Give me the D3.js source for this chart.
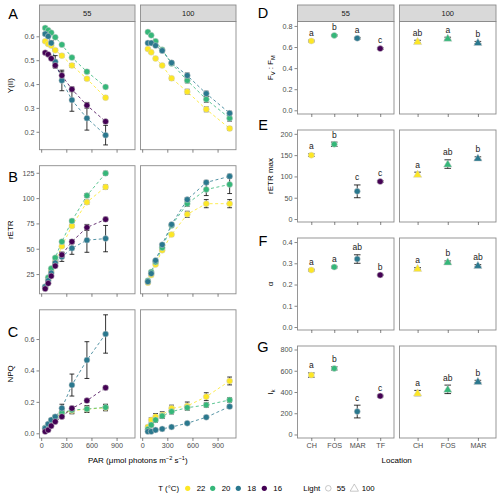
<!DOCTYPE html>
<html>
<head>
<meta charset="utf-8">
<script src="https://cdn.jsdelivr.net/npm/d3@7"></script>
<style>
body { margin: 0; background: #fff; }
svg { font-family: "Liberation Sans", Arial, sans-serif; }
</style>
</head>
<body>
<div id="chart"></div>
<script>
// ---- data ----
var temps = ["22", "20", "18", "16"];
var tempColors = ["#FDE725", "#35B779", "#2A788E", "#440154"];

// light curves, PAR per light level (55 = 4 temps, 100 = 3 temps)
var par55 = [48, 84, 120, 168, 247, 367, 546, 769];
var par100 = [68, 108, 160, 239, 351, 538, 765, 1044];
var parTicks = [0, 300, 600, 900];

// Y(II)
var yii55 = [
  [0.579, 0.568, 0.561, 0.542, 0.519, 0.478, 0.422, 0.343],
  [0.635, 0.625, 0.615, 0.596, 0.565, 0.511, 0.452, 0.388],
  [0.610, 0.600, 0.572, 0.493, 0.415, 0.333, 0.257, 0.186],
  [0.531, 0.524, 0.507, 0.478, 0.436, 0.378, 0.311, 0.243]
];
var yii55Se = [
  [0.004, 0.004, 0.004, 0.005, 0.006, 0.008, 0.006, 0.006],
  [0.003, 0.003, 0.003, 0.004, 0.004, 0.005, 0.006, 0.006],
  [0.005, 0.005, 0.010, 0.026, 0.043, 0.047, 0.050, 0.041],
  [0.004, 0.004, 0.005, 0.008, 0.015, 0.010, 0.012, 0.008]
];
var yii100 = [
  [0.547, 0.533, 0.507, 0.478, 0.424, 0.368, 0.294, 0.214],
  [0.618, 0.604, 0.579, 0.544, 0.486, 0.415, 0.336, 0.257],
  [0.572, 0.572, 0.561, 0.540, 0.489, 0.436, 0.360, 0.278]
];
var yii100Se = [
  [0.004, 0.004, 0.005, 0.005, 0.007, 0.010, 0.010, 0.008],
  [0.003, 0.003, 0.004, 0.005, 0.006, 0.010, 0.012, 0.012],
  [0.004, 0.004, 0.004, 0.005, 0.008, 0.010, 0.010, 0.008]
];
var yiiTicks = [0.2, 0.3, 0.4, 0.5, 0.6];

// rETR
var retr55 = [
  [11.5, 19.5, 28, 37, 52.5, 72.5, 96, 111],
  [12.5, 21.5, 30.5, 41, 57, 77.5, 102.5, 124.5],
  [12.5, 18.5, 26, 36, 42, 50.5, 58.5, 60],
  [10.5, 15.8, 23, 33, 44, 57, 71, 79]
];
var retr55Se = [
  [0.4, 0.5, 0.6, 0.8, 1, 1.5, 2, 2],
  [0.4, 0.5, 0.6, 0.8, 1, 1.5, 2, 2],
  [0.5, 0.6, 0.8, 1.5, 4.5, 6, 12, 13],
  [0.4, 0.5, 0.8, 1.2, 2.5, 2, 3, 2]
];
var retr100 = [
  [16.5, 24, 34.5, 48.5, 64, 84, 94.5, 94.5],
  [18.5, 27, 37, 51, 73, 94.5, 108.5, 113.5],
  [17.5, 25.5, 38.5, 54, 74, 98.5, 115.5, 121.5]
];
var retr100Se = [
  [0.5, 0.6, 0.8, 1.2, 1.5, 3, 4, 4],
  [0.4, 0.6, 0.8, 1, 1.5, 2.5, 6, 9],
  [0.5, 0.6, 0.8, 1, 1.5, 2, 2, 2]
];
var retrTicks = [25, 50, 75, 100, 125];

// NPQ
var npq55 = [
  [0.030, 0.050, 0.075, 0.100, 0.127, 0.144, 0.153, 0.163],
  [0.035, 0.055, 0.080, 0.100, 0.131, 0.148, 0.155, 0.165],
  [0.032, 0.059, 0.085, 0.105, 0.160, 0.307, 0.466, 0.632],
  [0.011, 0.021, 0.047, 0.074, 0.106, 0.159, 0.208, 0.290]
];
var npq55Se = [
  [0.005, 0.008, 0.010, 0.012, 0.020, 0.020, 0.020, 0.020],
  [0.005, 0.008, 0.010, 0.012, 0.018, 0.020, 0.020, 0.020],
  [0.005, 0.008, 0.010, 0.012, 0.025, 0.070, 0.117, 0.122],
  [0.003, 0.004, 0.005, 0.006, 0.008, 0.012, 0.010, 0.012]
];
var npq100 = [
  [0.040, 0.085, 0.106, 0.117, 0.159, 0.174, 0.233, 0.333],
  [0.025, 0.053, 0.085, 0.110, 0.138, 0.163, 0.180, 0.212],
  [0.011, 0.011, 0.021, 0.028, 0.040, 0.064, 0.102, 0.170]
];
var npq100Se = [
  [0.010, 0.015, 0.020, 0.020, 0.020, 0.025, 0.025, 0.025],
  [0.010, 0.012, 0.015, 0.015, 0.015, 0.015, 0.015, 0.015],
  [0.003, 0.003, 0.004, 0.005, 0.005, 0.006, 0.008, 0.012]
];
var npqTicks = [0, 0.2, 0.4, 0.6];

// photosynthetic parameters by location
var sites55 = ["CH", "FOS", "MAR", "TF"];
var sites100 = ["CH", "FOS", "MAR"];

var fvfm55 = [0.657, 0.710, 0.683, 0.585];
var fvfm55Se = [0.008, 0.006, 0.008, 0.008];
var fvfm55Let = ["a", "b", "a", "c"];
var fvfm100 = [0.652, 0.683, 0.643];
var fvfm100Se = [0.012, 0.010, 0.010];
var fvfm100Let = ["ab", "a", "b"];
var fvfmTicks = [0, 0.2, 0.4, 0.6, 0.8];

var rmax55 = [150, 175.5, 65, 88];
var rmax55Se = [3, 5, 15, 2];
var rmax55Let = ["a", "b", "c", "c"];
var rmax100 = [105, 129, 143];
var rmax100Se = [5, 10, 3];
var rmax100Let = ["a", "ab", "b"];
var rmaxTicks = [0, 50, 100, 150, 200];

var alpha55 = [0.268, 0.282, 0.320, 0.245];
var alpha55Se = [0.004, 0.004, 0.020, 0.003];
var alpha55Let = ["a", "a", "ab", "b"];
var alpha100 = [0.276, 0.306, 0.290];
var alpha100Se = [0.004, 0.005, 0.004];
var alpha100Let = ["a", "b", "ab"];
var alphaTicks = [0, 0.1, 0.2, 0.3, 0.4];

var ik55 = [559, 622, 216, 362];
var ik55Se = [20, 15, 60, 8];
var ik55Let = ["a", "b", "c", "c"];
var ik100 = [390, 425, 500];
var ik100Se = [25, 40, 10];
var ik100Let = ["a", "ab", "b"];
var ikTicks = [0, 200, 400, 600, 800];

var lightLevels = ["55", "100"];

// ---- drawing ----
var svg = d3.select("#chart").append("svg")
    .attr("width", 500)
    .attr("height", 498);

var borderCol = "#8c8c8c";
var tickTxt = "#4D4D4D";

function panelBox(x0, x1, y0, y1) {
    svg.append("rect")
        .attr("x", x0).attr("y", y0)
        .attr("width", x1 - x0).attr("height", y1 - y0)
        .attr("fill", "none")
        .attr("stroke", borderCol)
        .attr("stroke-width", 0.9);
}

function strip(x0, x1, y0, y1, label) {
    svg.append("rect")
        .attr("x", x0).attr("y", y0)
        .attr("width", x1 - x0).attr("height", y1 - y0)
        .attr("fill", "#D9D9D9")
        .attr("stroke", borderCol)
        .attr("stroke-width", 0.9);
    svg.append("text")
        .attr("x", (x0 + x1) / 2).attr("y", (y0 + y1) / 2 + 2.6)
        .attr("text-anchor", "middle")
        .style("font-size", "7.5px")
        .attr("fill", "#1A1A1A")
        .text(label);
}

function styleAxis(g, showLabels) {
    g.select(".domain").remove();
    g.selectAll(".tick line").attr("stroke", "#333").attr("stroke-width", 0.6);
    g.selectAll(".tick text")
        .attr("fill", tickTxt)
        .style("font-size", "7.2px")
        .style("font-family", "Liberation Sans, Arial, sans-serif");
    if (!showLabels) g.selectAll(".tick text").remove();
}

function yAxis(y, x0, ticks, fmt) {
    var g = svg.append("g")
        .attr("transform", "translate(" + x0 + ",0)")
        .call(d3.axisLeft(y).tickValues(ticks).tickSize(3).tickPadding(2).tickFormat(d3.format(fmt)));
    styleAxis(g, true);
}

function yTitle(x, yMid, build) {
    var t = svg.append("text")
        .attr("transform", "translate(" + x + "," + yMid + ") rotate(-90)")
        .attr("text-anchor", "middle")
        .style("font-size", "8px")
        .attr("fill", "#000");
    build(t);
}

function tag(x, y, s) {
    svg.append("text")
        .attr("x", x).attr("y", y + 5)
        .attr("text-anchor", "middle")
        .style("font-size", "14.5px")
        .attr("fill", "#000")
        .text(s);
}

// left grid: light curves
var leftFacets = [[39.5, 135], [140.5, 236]];
var xPar = leftFacets.map(function (f) {
    return d3.scaleLinear().domain([-20, 1120]).range(f);
});
var parByFacet = [par55, par100];

var leftRows = [
    {tag: "A", tagY: 14, top: 21.5, bottom: 149.7, dom: [0.125, 0.662], ticks: yiiTicks, fmt: ".1f",
        title: "Y(II)", vals: [yii55, yii100], se: [yii55Se, yii100Se]},
    {tag: "B", tagY: 177, top: 165.7, bottom: 293.8, dom: [5.5, 132], ticks: retrTicks, fmt: "d",
        title: "rETR", vals: [retr55, retr100], se: [retr55Se, retr100Se]},
    {tag: "C", tagY: 332, top: 309.8, bottom: 438, dom: [-0.03, 0.786], ticks: npqTicks, fmt: ".1f",
        title: "NPQ", vals: [npq55, npq100], se: [npq55Se, npq100Se]}
];

leftFacets.forEach(function (f, i) {
    strip(f[0], f[1], 5, 21.5, lightLevels[i]);
});

leftRows.forEach(function (row, ri) {
    var y = d3.scaleLinear().domain(row.dom).range([row.bottom, row.top]);
    yAxis(y, leftFacets[0][0], row.ticks, row.fmt);
    yTitle(13, (row.top + row.bottom) / 2, function (t) { t.text(row.title); });
    tag(13, row.tagY, row.tag);

    leftFacets.forEach(function (f, fi) {
        var x = xPar[fi];
        var pars = parByFacet[fi];
        panelBox(f[0], f[1], row.top, row.bottom);

        var gx = svg.append("g")
            .attr("transform", "translate(0," + row.bottom + ")")
            .call(d3.axisBottom(x).tickValues(parTicks).tickSize(3).tickPadding(2).tickFormat(d3.format("d")));
        styleAxis(gx, ri === 2);

        var series = row.vals[fi].map(function (v, k) {
            return v.map(function (d, j) {
                return {x: pars[j], y: d, se: row.se[fi][k][j], col: tempColors[k]};
            });
        });

        var line = d3.line().x(function (d) { return x(d.x); }).y(function (d) { return y(d.y); });
        svg.append("g").selectAll("path").data(series).enter().append("path")
            .attr("d", line)
            .attr("fill", "none")
            .attr("stroke", function (d) { return d[0].col; })
            .attr("stroke-width", 0.8)
            .attr("stroke-dasharray", "3,2.5");

        var eg = svg.append("g");
        series.forEach(function (s) {
            s.forEach(function (d) {
                var cx = x(d.x), y0 = y(d.y - d.se), y1 = y(d.y + d.se);
                eg.append("path")
                    .attr("d", "M" + (cx - 2.4) + "," + y1 + "H" + (cx + 2.4) +
                        "M" + cx + "," + y1 + "V" + y0 +
                        "M" + (cx - 2.4) + "," + y0 + "H" + (cx + 2.4))
                    .attr("stroke", "#000")
                    .attr("stroke-width", 0.8)
                    .attr("fill", "none");
            });
        });

        var pg = svg.append("g");
        series.forEach(function (s) {
            pg.selectAll(null).data(s).enter().append("circle")
                .attr("cx", function (d) { return x(d.x); })
                .attr("cy", function (d) { return y(d.y); })
                .attr("r", 3)
                .attr("fill", function (d) { return d.col; })
                .attr("stroke", "#cfcfcf")
                .attr("stroke-width", 0.5);
        });
    });
});

// PAR axis title
var parT = svg.append("text")
    .attr("x", 137.8).attr("y", 463)
    .attr("text-anchor", "middle")
    .style("font-size", "8px")
    .attr("fill", "#000");
parT.append("tspan").text("PAR (\u03bcmol photons m");
parT.append("tspan").attr("dy", -3).style("font-size", "5.6px").text("\u22122");
parT.append("tspan").attr("dy", 3).text(" s");
parT.append("tspan").attr("dy", -3).style("font-size", "5.6px").text("\u22121");
parT.append("tspan").attr("dy", 3).text(")");

// right grid: parameters by location
var rightFacets = [[297.5, 394], [399.5, 496]];
var siteByFacet = [sites55, sites100];
var xSite = rightFacets.map(function (f, i) {
    return d3.scalePoint().domain(siteByFacet[i]).range([f[0], f[1]]).padding(0.6);
});

var rightRows = [
    {tag: "D", tagY: 13, top: 21.5, bottom: 114, dom: [-0.035, 0.842], ticks: fvfmTicks, fmt: ".1f",
        vals: [fvfm55, fvfm100], se: [fvfm55Se, fvfm100Se], lets: [fvfm55Let, fvfm100Let],
        title: function (t) {
            t.append("tspan").text("F");
            t.append("tspan").attr("dy", 2).style("font-size", "5.6px").text("V");
            t.append("tspan").attr("dy", -2).text(" : F");
            t.append("tspan").attr("dy", 2).style("font-size", "5.6px").text("M");
        }},
    {tag: "E", tagY: 125, top: 130, bottom: 222, dom: [-7, 209], ticks: rmaxTicks, fmt: "d",
        vals: [rmax55, rmax100], se: [rmax55Se, rmax100Se], lets: [rmax55Let, rmax100Let],
        title: function (t) { t.text("rETR max"); }},
    {tag: "F", tagY: 241, top: 238, bottom: 330, dom: [-0.014, 0.419], ticks: alphaTicks, fmt: ".1f",
        vals: [alpha55, alpha100], se: [alpha55Se, alpha100Se], lets: [alpha55Let, alpha100Let],
        title: function (t) { t.text("\u03b1"); }},
    {tag: "G", tagY: 347, top: 346, bottom: 438, dom: [-33, 833], ticks: ikTicks, fmt: "d",
        vals: [ik55, ik100], se: [ik55Se, ik100Se], lets: [ik55Let, ik100Let],
        title: function (t) {
            t.append("tspan").text("I");
            t.append("tspan").attr("dy", 2).style("font-size", "5.6px").text("k");
        }}
];

rightFacets.forEach(function (f, i) {
    strip(f[0], f[1], 5, 21.5, lightLevels[i]);
});

var triangle = d3.symbol().type(d3.symbolTriangle).size(30);

rightRows.forEach(function (row, ri) {
    var y = d3.scaleLinear().domain(row.dom).range([row.bottom, row.top]);
    yAxis(y, rightFacets[0][0], row.ticks, row.fmt);
    yTitle(273, (row.top + row.bottom) / 2, row.title);
    tag(263, row.tagY, row.tag);

    rightFacets.forEach(function (f, fi) {
        var x = xSite[fi];
        panelBox(f[0], f[1], row.top, row.bottom);

        var gx = svg.append("g")
            .attr("transform", "translate(0," + row.bottom + ")")
            .call(d3.axisBottom(x).tickSize(3).tickPadding(2));
        styleAxis(gx, ri === 3);

        var pts = row.vals[fi].map(function (v, j) {
            return {site: siteByFacet[fi][j], y: v, se: row.se[fi][j], lab: row.lets[fi][j], col: tempColors[j]};
        });

        var g = svg.append("g");
        pts.forEach(function (d) {
            var cx = x(d.site), y0 = y(d.y - d.se), y1 = y(d.y + d.se);
            g.append("path")
                .attr("d", "M" + (cx - 3.3) + "," + y1 + "H" + (cx + 3.3) +
                    "M" + cx + "," + y1 + "V" + y0 +
                    "M" + (cx - 3.3) + "," + y0 + "H" + (cx + 3.3))
                .attr("stroke", "#000")
                .attr("stroke-width", 0.8)
                .attr("fill", "none");
            if (fi === 0) {
                g.append("circle")
                    .attr("cx", cx).attr("cy", y(d.y)).attr("r", 3)
                    .attr("fill", d.col)
                    .attr("stroke", "#cfcfcf").attr("stroke-width", 0.5);
            } else {
                g.append("path")
                    .attr("d", triangle)
                    .attr("transform", "translate(" + cx + "," + (y(d.y) + 0.6) + ")")
                    .attr("fill", d.col)
                    .attr("stroke", "#cfcfcf").attr("stroke-width", 0.5);
            }
            g.append("text")
                .attr("x", cx).attr("y", y1 - 4.5)
                .attr("text-anchor", "middle")
                .style("font-size", "8.5px")
                .attr("fill", "#1A1A1A")
                .text(d.lab);
        });
    });
});

svg.append("text")
    .attr("x", 396.7).attr("y", 463)
    .attr("text-anchor", "middle")
    .style("font-size", "8px")
    .attr("fill", "#000")
    .text("Location");

// legend
var leg = svg.append("g").attr("transform", "translate(0,488.3)");
leg.append("text").attr("x", 158.3).attr("y", 2.6).style("font-size", "7.8px").text("T (\u00b0C)");
var legX = [187.7, 212.7, 238.3, 264.3];
temps.forEach(function (t, i) {
    leg.append("circle").attr("cx", legX[i]).attr("cy", 0).attr("r", 2.6).attr("fill", tempColors[i]);
    leg.append("text").attr("x", legX[i] + 9).attr("y", 2.6).style("font-size", "7.8px").text(t);
});
leg.append("text").attr("x", 303.3).attr("y", 2.6).style("font-size", "7.8px").text("Light");
leg.append("circle").attr("cx", 328.3).attr("cy", 0).attr("r", 2.8)
    .attr("fill", "none").attr("stroke", "#b0b0b0").attr("stroke-width", 0.7);
leg.append("text").attr("x", 336.7).attr("y", 2.6).style("font-size", "7.8px").text(lightLevels[0]);
leg.append("path").attr("d", triangle).attr("transform", "translate(354.3,0.5)")
    .attr("fill", "none").attr("stroke", "#b0b0b0").attr("stroke-width", 0.7);
leg.append("text").attr("x", 361.7).attr("y", 2.6).style("font-size", "7.8px").text(lightLevels[1]);
</script>
</body>
</html>
